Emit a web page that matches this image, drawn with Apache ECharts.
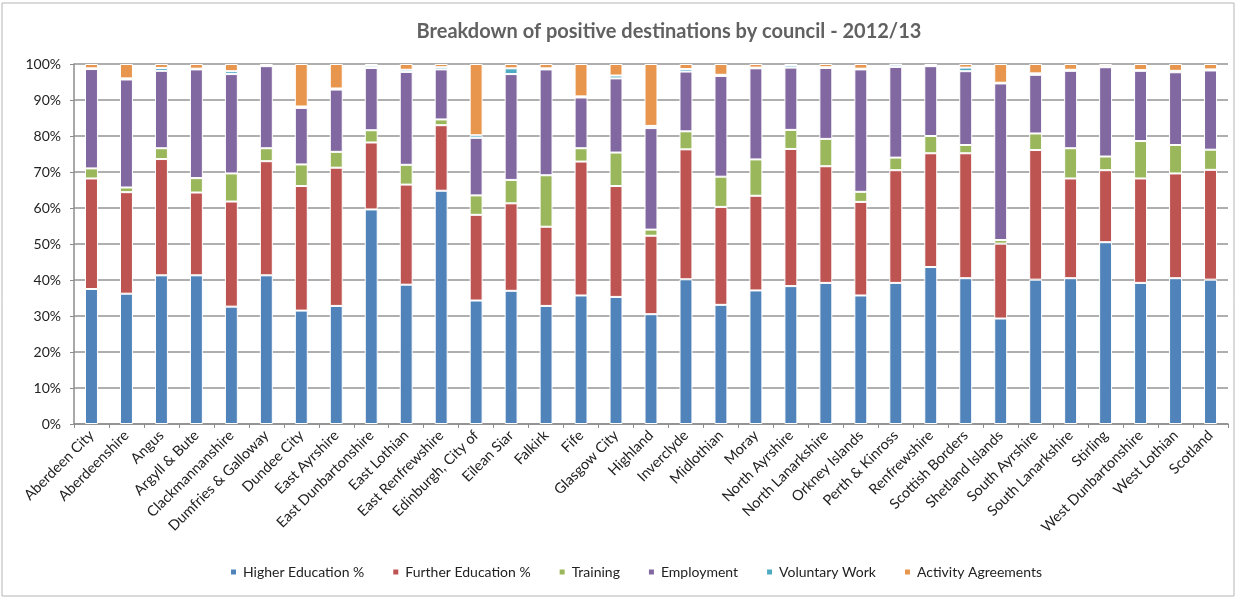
<!DOCTYPE html>
<html>
<head>
<meta charset="utf-8">
<script src="https://cdn.jsdelivr.net/npm/echarts@6/dist/echarts.min.js"></script>
<style>
  html, body { margin: 0; padding: 0; background: #fff; }
  #chart { width: 1236px; height: 599px; }
</style>
</head>
<body>
<div id="chart"></div>
<script>
// Councils (x-axis categories)
const councils = [
  'Aberdeen City', 'Aberdeenshire', 'Angus', 'Argyll & Bute', 'Clackmannanshire',
  'Dumfries & Galloway', 'Dundee City', 'East Ayrshire', 'East Dunbartonshire',
  'East Lothian', 'East Renfrewshire', 'Edinburgh, City of', 'Eilean Siar', 'Falkirk',
  'Fife', 'Glasgow City', 'Highland', 'Inverclyde', 'Midlothian', 'Moray',
  'North Ayrshire', 'North Lanarkshire', 'Orkney Islands', 'Perth & Kinross',
  'Renfrewshire', 'Scottish Borders', 'Shetland Islands', 'South Ayrshire',
  'South Lanarkshire', 'Stirling', 'West Dunbartonshire', 'West Lothian', 'Scotland'
];

// Share of positive destinations (%) per council
const higherEducation = [
  37.5, 36.2, 41.3, 41.3, 32.6, 41.3, 31.5, 32.8, 59.6, 38.7, 64.8, 34.3, 37.0, 32.8,
  35.7, 35.3, 30.5, 40.2, 33.1, 37.1, 38.3, 39.2, 35.7, 39.2, 43.6, 40.5, 29.3, 40.1,
  40.5, 50.5, 39.2, 40.5, 40.1
];
const furtherEducation = [
  30.7, 28.2, 32.3, 23.0, 29.2, 31.7, 34.6, 38.4, 18.6, 27.8, 18.2, 23.8, 24.3, 22.0,
  37.2, 30.8, 21.8, 36.1, 27.2, 26.3, 38.1, 32.4, 26.0, 31.3, 31.6, 34.7, 20.8, 36.0,
  27.7, 20.0, 29.0, 29.1, 30.5
];
const training = [
  2.8, 1.3, 3.0, 4.0, 7.8, 3.6, 6.0, 4.4, 3.4, 5.5, 1.6, 5.4, 6.5, 14.3,
  3.7, 9.3, 1.7, 5.0, 8.4, 10.1, 5.3, 7.6, 2.8, 3.5, 4.8, 2.3, 1.0, 4.6,
  8.4, 3.8, 10.4, 7.9, 5.6
];
const employment = [
  27.6, 30.0, 21.5, 30.2, 27.6, 22.8, 15.7, 17.3, 17.3, 25.8, 13.9, 16.0, 29.4, 29.4,
  14.1, 20.6, 28.2, 16.6, 28.0, 25.3, 17.3, 19.7, 34.0, 25.2, 19.4, 20.5, 43.5, 16.3,
  21.5, 24.8, 19.5, 20.2, 22.0
];
const voluntaryWork = [
  0.2, 0.3, 0.8, 0.2, 0.8, 0.2, 0.4, 0.3, 0.6, 0.6, 0.6, 0.7, 1.6, 0.3,
  0.3, 0.8, 0.6, 0.7, 0.3, 0.2, 0.6, 0.2, 0.2, 0.6, 0.2, 1.0, 0.2, 0.4,
  0.3, 0.3, 0.2, 0.4, 0.3
];
const activityAgreements = [
  1.2, 4.0, 1.1, 1.3, 2.0, 0.4, 11.8, 6.8, 0.5, 1.6, 0.9, 19.8, 1.2, 1.2,
  9.0, 3.2, 17.2, 1.4, 3.0, 1.0, 0.4, 0.9, 1.3, 0.2, 0.4, 1.0, 5.2, 2.6,
  1.6, 0.6, 1.7, 1.9, 1.5
];

// Y-axis tick labels
const yTicks = ['0%', '10%', '20%', '30%', '40%', '50%', '60%', '70%', '80%', '90%', '100%'];

const seriesDefs = [
  { name: 'Higher Education %', data: higherEducation, color: '#5083BA' },
  { name: 'Further Education %', data: furtherEducation, color: '#BE5451' },
  { name: 'Training', data: training, color: '#9BB75C' },
  { name: 'Employment', data: employment, color: '#8268A0' },
  { name: 'Voluntary Work', data: voluntaryWork, color: '#4FAAC4' },
  { name: 'Activity Agreements', data: activityAgreements, color: '#E8964E' }
];

const FONT = 'Lato, "Open Sans", sans-serif';

const chart = echarts.init(document.getElementById('chart'), null, { renderer: 'canvas' });

chart.setOption({
  animation: false,
  backgroundColor: '#fff',
  textStyle: { fontFamily: FONT },
  title: {
    text: 'Breakdown of positive destinations by council - 2012/13',
    left: 664,
    textAlign: 'center',
    top: 17,
    textStyle: { fontFamily: FONT, fontSize: 20, fontWeight: 'bold', color: '#616161' }
  },
  legend: {
    bottom: 15,
    left: 224,
    itemWidth: 7,
    itemHeight: 7,
    itemGap: 27,
    icon: 'rect',
    textStyle: { fontFamily: FONT, fontSize: 14, color: '#222', padding: [0, 0, 0, 1] },
    data: seriesDefs.map(s => s.name)
  },
  grid: { left: 74, right: 8, top: 64, bottom: 175, containLabel: false },
  xAxis: {
    type: 'category',
    data: councils,
    axisLine: { lineStyle: { color: '#8c8c8c', width: 1.5 } },
    axisTick: { show: true, length: 4, lineStyle: { color: '#8c8c8c' } },
    axisLabel: {
      rotate: 45,
      interval: 0,
      margin: 9,
      fontFamily: FONT,
      fontSize: 14.5,
      color: '#222'
    }
  },
  yAxis: {
    type: 'value',
    min: 0,
    max: 100,
    interval: 10,
    axisLine: { show: true, lineStyle: { color: '#8c8c8c', width: 1.5 } },
    axisTick: { show: true, length: 4, lineStyle: { color: '#8c8c8c' } },
    splitLine: { lineStyle: { color: '#949494', width: 1.6 } },
    axisLabel: {
      margin: 13,
      fontFamily: FONT,
      fontSize: 14,
      color: '#222',
      formatter: v => yTicks[Math.round(v / 10)]
    }
  },
  graphic: [{
    type: 'rect',
    shape: { x: 2, y: 3, width: 1232, height: 593 },
    style: { fill: 'none', stroke: '#b5b5b5', lineWidth: 1 },
    silent: true,
    z: -1
  }],
  series: seriesDefs.map(s => ({
    name: s.name,
    type: 'bar',
    stack: 'total',
    barWidth: '37%',
    data: s.data,
    itemStyle: { color: s.color, borderColor: '#fff', borderWidth: 1 }
  }))
});
</script>
</body>
</html>
